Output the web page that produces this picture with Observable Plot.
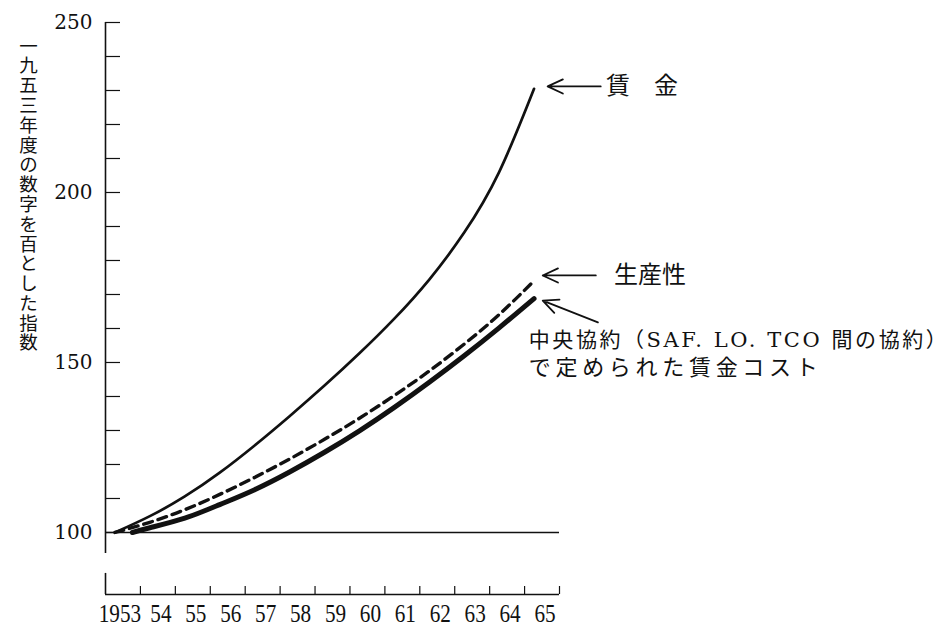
<!DOCTYPE html>
<html>
<head>
<meta charset="utf-8">
<script src="https://cdn.jsdelivr.net/npm/d3@7"></script>
<script src="https://cdn.jsdelivr.net/npm/@observablehq/plot@0.6"></script>
<style>
  html, body { margin: 0; padding: 0; background: #fff; }
  #chart svg { display: block; }
</style>
</head>
<body>
<div id="chart"></div>
<script>
// ---- data ----
const years = [1953, 1954, 1955, 1956, 1957, 1958, 1959, 1960, 1961, 1962, 1963, 1964, 1965];
const yearLabels = ["1953", "54", "55", "56", "57", "58", "59", "60", "61", "62", "63", "64", "65"];
const wageValues = [100, 104.8, 110.6, 117.6, 125.6, 134.2, 143.2, 152.7, 162.9, 174.4, 188.2, 206, 230.5];
const productivityValues = [100, 103, 106.7, 111.2, 116.2, 121.6, 127.4, 133.6, 140.3, 147.5, 155.4, 164.1, 174];
const costYears = [1953.5, 1954, 1955, 1956, 1957, 1958, 1959, 1960, 1961, 1962, 1963, 1964, 1965];
const costValues = [100, 101.4, 104.2, 108.2, 112.6, 117.8, 123.6, 129.9, 136.8, 144.2, 152, 160.2, 168.8];
const yLabelTicks = [100, 150, 200, 250];
const yMinorTicks = [100, 110, 120, 130, 140, 150, 160, 170, 180, 190, 200, 210, 220, 230, 240, 250];
const xEdgeTicks = [1953.5, 1954.5, 1955.5, 1956.5, 1957.5, 1958.5, 1959.5, 1960.5, 1961.5, 1962.5, 1963.5, 1964.5, 1965.5];
const yTitle = "一九五三年度の数字を百とした指数";
const labelWage = "賃　金";
const labelProd = "生産性";
const labelCost1 = "中央協約（SAF. LO. TCO 間の協約）";
const labelCost2 = "で定められた賃金コスト";

// ---- layout constants ----
const xDomain = [1952.5, 1965.5];
const yDomain = [81.76, 250];
const frameH = 630 - 22 - 36;
const frameW = 949 - 105 - 390;
const serif = "'DejaVu Serif', 'Liberation Serif', serif";
const xSerif = "'Liberation Serif', serif";
const jp = "'Noto Sans CJK JP', sans-serif";
const mixed = "'DejaVu Serif', 'Noto Sans CJK JP', serif";

const wage = years.map((y, i) => ({year: y, value: wageValues[i]}));
const prod = years.map((y, i) => ({year: y, value: productivityValues[i]}));
const cost = costYears.map((y, i) => ({year: y, value: costValues[i]}));
const firstYear = years.slice(0, 1);
const laterYears = years.slice(1);

const ink = "#111";
const xLabelStyle = {frameAnchor: "bottom", lineAnchor: "top", dy: 9, fontSize: 26, fontFamily: xSerif, fill: ink, className: "xlab"};

const chart = Plot.plot({
  width: 949,
  height: 630,
  marginLeft: 105,
  marginRight: 390,
  marginTop: 22,
  marginBottom: 36,
  style: {background: "#fff", color: ink, overflow: "visible"},
  x: {domain: xDomain, label: null, axis: null},
  y: {domain: yDomain, label: null},
  marks: [
    // y axis line
    Plot.ruleX([xDomain[0]], {y1: 93.8, y2: 250, stroke: ink, strokeWidth: 1.6}),
    // y ticks (inward)
    Plot.ruleY(yMinorTicks, {stroke: ink, strokeWidth: 1.2, insetRight: frameW - 15}),
    // baseline at 100
    Plot.ruleY([100], {stroke: ink, strokeWidth: 1.3}),
    Plot.axisY(yLabelTicks, {tickSize: 0, tickPadding: 13, fontSize: 20, fontFamily: serif, label: null, tickFormat: d => String(d)}),
    // x axis
    Plot.ruleY([yDomain[0]], {stroke: ink, strokeWidth: 1.6}),
    Plot.ruleX(xEdgeTicks, {stroke: ink, strokeWidth: 1.2, insetTop: frameH - 8}),
    Plot.ruleX([xDomain[0]], {y1: yDomain[0], y2: yDomain[0] + 6.2, stroke: ink, strokeWidth: 1.6}),
    Plot.text(firstYear, {x: d => d, text: d => yearLabels[years.indexOf(d)], dx: -3, ...xLabelStyle}),
    Plot.text(laterYears, {x: d => d, text: d => yearLabels[years.indexOf(d)], dx: 3, ...xLabelStyle}),
    // y title (stacked vertically, one character per line)
    Plot.text([yTitle], {text: d => d.split("").join("\n"), frameAnchor: "top-left", dx: -77, dy: 16,
      lineAnchor: "top", textAnchor: "middle", fontSize: 18.5, lineHeight: 1.07, fontFamily: jp, fill: ink}),
    // series
    Plot.line(wage, {x: "year", y: "value", dx: -8, stroke: ink, strokeWidth: 2.7, curve: "natural"}),
    Plot.line(prod, {x: "year", y: "value", dx: -8, stroke: ink, strokeWidth: 3.4, strokeDasharray: "9,6", curve: "natural"}),
    Plot.line(cost, {x: "year", y: "value", dx: -8, stroke: ink, strokeWidth: 5, curve: "natural"}),
    // annotations
    Plot.arrow([0], {x1: 1966.68, y1: 231.2, x2: 1965.16, y2: 231.2, stroke: ink, strokeWidth: 1.8, headLength: 14, headAngle: 50}),
    Plot.arrow([0], {x1: 1966.54, y1: 175.6, x2: 1965.02, y2: 175.6, stroke: ink, strokeWidth: 1.8, headLength: 14, headAngle: 50}),
    Plot.arrow([0], {x1: 1966.6, y1: 161.8, x2: 1965.02, y2: 168.2, stroke: ink, strokeWidth: 1.8, headLength: 14, headAngle: 50}),
    Plot.text([labelWage], {text: d => d, x: 1966.83, y: 231.2, textAnchor: "start", fontSize: 24, fontFamily: jp, fill: ink}),
    Plot.text([labelProd], {text: d => d, x: 1967.06, y: 175.6, textAnchor: "start", fontSize: 24, fontFamily: jp, fill: ink}),
    Plot.text([labelCost1], {text: d => d, x: 1964.62, y: 156.5, textAnchor: "start", fontSize: 21, fontFamily: mixed, fill: ink, className: "cost1"}),
    Plot.text([labelCost2], {text: d => d, x: 1964.62, y: 148.5, textAnchor: "start", fontSize: 22, fontFamily: jp, fill: ink, className: "cost2"})
  ]
});

const svg = d3.select(chart);
svg.selectAll(".cost1 text").attr("textLength", 418).attr("lengthAdjust", "spacing");
svg.selectAll(".cost2 text").attr("textLength", 289).attr("lengthAdjust", "spacing");
svg.selectAll(".xlab text").each(function() {
  const n = this.textContent.length;
  d3.select(this).attr("textLength", n * 10.6).attr("lengthAdjust", "spacingAndGlyphs");
});
document.getElementById("chart").appendChild(chart);
</script>
</body>
</html>
